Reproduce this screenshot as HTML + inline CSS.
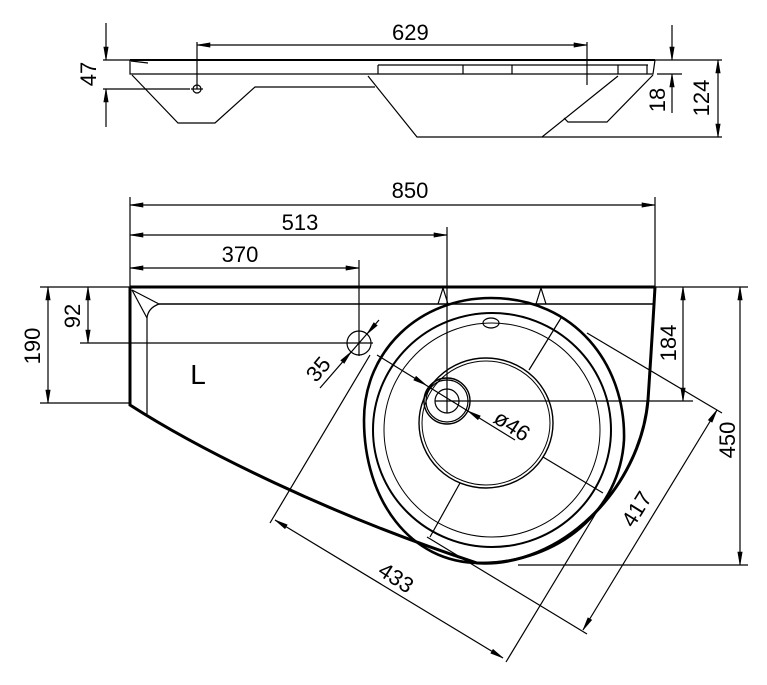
<!DOCTYPE html>
<html><head><meta charset="utf-8"><style>
html,body{margin:0;padding:0;background:#fff;}
svg{display:block;}
text{font-family:"Liberation Sans",sans-serif;font-size:22px;fill:#000;}
</style></head><body>
<svg width="767" height="685" viewBox="0 0 767 685" xmlns="http://www.w3.org/2000/svg">
<g fill="none" stroke="#000" stroke-width="1.2">
<line x1="197" y1="45" x2="587" y2="45"/>
<line x1="197" y1="42" x2="197" y2="89"/>
<line x1="587" y1="42" x2="587" y2="85"/>
<line x1="106" y1="23" x2="106" y2="60"/>
<line x1="106" y1="127" x2="106" y2="89"/>
<line x1="103" y1="60" x2="130" y2="60"/>
<line x1="103" y1="89" x2="190" y2="89"/>
<circle cx="197" cy="89" r="4"/>
<line x1="191" y1="89" x2="203" y2="89"/>
<line x1="672" y1="25" x2="672" y2="60"/>
<line x1="672" y1="113" x2="672" y2="74"/>
<line x1="655" y1="60" x2="722" y2="60"/>
<line x1="657" y1="74" x2="682" y2="74"/>
<line x1="718" y1="60" x2="718" y2="137"/>
<line x1="542" y1="137" x2="722" y2="137"/>
<path d="M130,60 L655,60" stroke-width="2"/>
<path d="M130,60 L130,74 L653,74 L655,60"/>
<path d="M131,61 L148,63"/>
<path d="M378,65 L648,65"/>
<path d="M378,65 V74 M463,65 V74 M512,65 V74 M618,65 V74 M647,65 V74"/>
<path d="M132,75 L178,123 L215,123 L255,87 L375,87"/>
<path d="M368,76 L417,137 L542,137 L618,76"/>
<path d="M653,75 L607,122 L568,122 L564,118"/>
<line x1="130" y1="205" x2="655" y2="205"/>
<line x1="130" y1="235" x2="447" y2="235"/>
<line x1="130" y1="268" x2="359" y2="268"/>
<line x1="130" y1="197" x2="130" y2="290"/>
<line x1="655" y1="197" x2="655" y2="287"/>
<line x1="447" y1="227" x2="447" y2="413"/>
<line x1="359" y1="260" x2="359" y2="356"/>
<line x1="48" y1="287" x2="48" y2="403"/>
<line x1="40" y1="287" x2="130" y2="287"/>
<line x1="40" y1="403" x2="130" y2="403"/>
<line x1="88" y1="287" x2="88" y2="343"/>
<line x1="80" y1="343" x2="373" y2="343"/>
<line x1="683" y1="287" x2="683" y2="401"/>
<line x1="655" y1="287" x2="748" y2="287"/>
<line x1="435" y1="401" x2="693" y2="401"/>
<line x1="740" y1="287" x2="740" y2="565"/>
<line x1="518" y1="565" x2="748" y2="565"/>
<circle cx="359" cy="343" r="12"/>
<line x1="320" y1="388" x2="379" y2="320"/>
<line x1="377" y1="355" x2="515" y2="440"/>
<line x1="275" y1="520" x2="503" y2="658"/>
<line x1="270" y1="523" x2="370" y2="355"/>
<line x1="506" y1="662" x2="596" y2="513"/>
<line x1="583" y1="630" x2="717" y2="410"/>
<line x1="587" y1="634" x2="427" y2="537"/>
<line x1="722" y1="413" x2="587" y2="333"/>
<line x1="543" y1="457" x2="603" y2="493"/>
<line x1="561" y1="318" x2="529" y2="370"/>
<line x1="460" y1="483" x2="430" y2="537"/>
<path d="M130,287 L655,287" stroke-width="3"/>
<path d="M130,287 L130,405 C200,450 330,515 477,563 C560,568 640,490 648,400 Q652,340 655,287" stroke-width="3"/>
<path d="M159,304 L653,304" stroke-width="1.6"/>
<path d="M132,290 L159,304 Q148,308 147,318 L147,414"/>
<path d="M132,290 L147,318"/>
<path d="M438,304 L443,288 L448,304 M536,304 L541,288 L546,304"/>
<path d="M491,298 C575,298 626,365 624,440 C620,510 560,563 480,563 C410,563 364,500 364,420 C364,350 420,298 491,298 Z" stroke-width="2.6"/>
<ellipse cx="492" cy="430" rx="119" ry="117" stroke-width="2"/>
<ellipse cx="492" cy="430" rx="108" ry="107" stroke-width="1"/>
<ellipse cx="491" cy="323" rx="8" ry="5"/>
<ellipse cx="486" cy="423" rx="67" ry="65" stroke-width="1.4"/>
<ellipse cx="486" cy="423" rx="64" ry="62" stroke-width="1"/>
<circle cx="447" cy="401" r="23" stroke-width="1.4"/>
<circle cx="447" cy="401" r="21"/>
<circle cx="447" cy="401" r="12"/>
</g>
<path fill="#000" stroke="#000" stroke-width="0.6" d="
M197,45 L210,42.8 L210,47.2 Z
M587,45 L574,42.8 L574,47.2 Z
M106,60 L103.8,47 L108.2,47 Z
M106,89 L103.8,102 L108.2,102 Z
M672,60 L669.8,47 L674.2,47 Z
M672,74 L669.8,87 L674.2,87 Z
M718,60 L715.8,73 L720.2,73 Z
M718,137 L715.8,124 L720.2,124 Z
M130,205 L143,202.8 L143,207.2 Z
M655,205 L642,202.8 L642,207.2 Z
M130,235 L143,232.8 L143,237.2 Z
M447,235 L434,232.8 L434,237.2 Z
M130,268 L143,265.8 L143,270.2 Z
M359,268 L346,265.8 L346,270.2 Z
M48,287 L45.8,300 L50.2,300 Z
M48,403 L45.8,390 L50.2,390 Z
M88,287 L85.8,300 L90.2,300 Z
M88,343 L85.8,330 L90.2,330 Z
M683,287 L680.8,300 L685.2,300 Z
M683,401 L680.8,388 L685.2,388 Z
M740,287 L737.8,300 L742.2,300 Z
M740,565 L737.8,552 L742.2,552 Z
M351,352 L344.2,363.3 L340.8,360.4 Z
M367,334 L373.8,322.7 L377.2,325.5 Z
M426,385 L413.8,380.1 L416.1,376.3 Z
M468,411 L480.3,415.9 L477.9,419.7 Z
M275,520 L287.2,524.8 L285.0,528.6 Z
M503,658 L490.8,653.2 L493.0,649.4 Z
M717,410 L712.1,422.2 L708.3,420.0 Z
M583,630 L587.9,617.8 L591.7,620.0 Z"/>
<text x="392" y="40">629</text>
<text transform="translate(96,74) rotate(-90)" text-anchor="middle">47</text>
<text transform="translate(665,100) rotate(-90)" text-anchor="middle">18</text>
<text transform="translate(709,98) rotate(-90)" text-anchor="middle">124</text>
<text x="410" y="198" text-anchor="middle">850</text>
<text x="300" y="230" text-anchor="middle">513</text>
<text x="240" y="262" text-anchor="middle">370</text>
<text x="198" y="384" text-anchor="middle" style="font-size:28px">L</text>
<text transform="translate(40,346) rotate(-90)" text-anchor="middle">190</text>
<text transform="translate(80,316) rotate(-90)" text-anchor="middle">92</text>
<text transform="translate(676,343) rotate(-90)" text-anchor="middle">184</text>
<text transform="translate(735,440) rotate(-90)" text-anchor="middle">450</text>
<text transform="translate(324,374) rotate(-50)" text-anchor="middle">35</text>
<text transform="translate(508,432) rotate(33)" text-anchor="middle">ø46</text>
<text transform="translate(392,584) rotate(33)" text-anchor="middle">433</text>
<text transform="translate(643,513) rotate(-58)" text-anchor="middle">417</text>
</svg>
</body></html>
